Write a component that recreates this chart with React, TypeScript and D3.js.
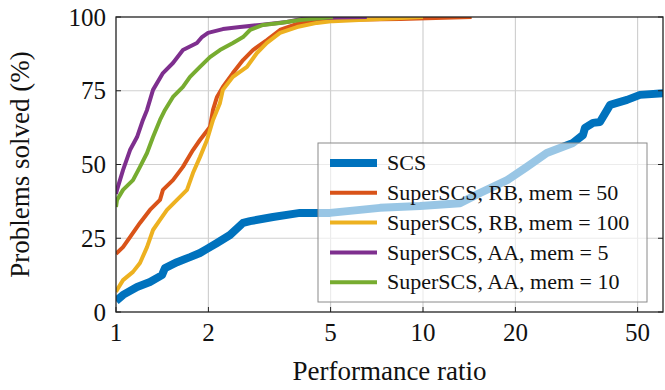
import React, { useEffect, useRef } from "react";
import * as d3 from "d3";

const W = 665, H = 390;
const M = { left: 116, right: 2, top: 17, bottom: 78 };

const xTicks = [1, 2, 5, 10, 20, 50];
const yTicks = [0, 25, 50, 75, 100];

const seriesNames = [
  "SCS",
  "SuperSCS, RB, mem = 50",
  "SuperSCS, RB, mem = 100",
  "SuperSCS, AA, mem = 5",
  "SuperSCS, AA, mem = 10",
];
const seriesColors = ["#0072BD", "#D95319", "#EDB120", "#7E2F8E", "#77AC30"];
const seriesWidths = [8, 4, 4, 4, 4];

// [performance ratio, problems solved %]
const scs: [number, number][] = [
  [1, 3.7], [1.054, 5.8], [1.171, 8.5], [1.29, 10.2], [1.412, 12.5], [1.444, 14.9],
  [1.58, 16.9], [1.742, 18.6], [1.877, 20.0], [1.979, 21.4], [2.133, 23.4], [2.351, 26.1],
  [2.593, 30.2], [2.733, 30.8], [3.246, 32.2], [3.975, 33.6], [4.98, 33.6], [7.24, 35.3],
  [9.78, 35.9], [13.2, 36.9], [15.3, 40.3], [18.8, 44.7], [21.8, 49.2], [25.3, 53.9],
  [30.8, 57.3], [33.2, 60.0], [33.7, 62.4], [35.8, 64.1], [37.7, 64.4], [40.7, 70.2],
  [46.2, 71.9], [50.9, 73.6], [61.4, 74.2],
];
const rb50: [number, number][] = [
  [1, 19.7], [1.054, 22.0], [1.111, 25.4], [1.197, 30.2], [1.29, 34.6], [1.391, 38.0],
  [1.422, 41.4], [1.533, 44.7], [1.652, 49.2], [1.781, 54.9], [1.877, 58.3], [2.023, 62.7],
  [2.07, 68.5], [2.133, 72.9], [2.229, 76.3], [2.403, 81.0], [2.593, 85.4], [2.792, 88.8],
  [3.101, 92.2], [3.42, 95.6], [3.975, 98.0], [4.87, 99.0], [8.42, 99.3], [14.4, 100],
];
const rb100: [number, number][] = [
  [1, 6.8], [1.0075, 7.5], [1.054, 10.8], [1.136, 13.6], [1.197, 16.6], [1.262, 22.0],
  [1.32, 27.8], [1.391, 31.2], [1.466, 34.6], [1.58, 38.0], [1.703, 41.4], [1.781, 47.1],
  [1.877, 52.5], [1.979, 58.3], [2.07, 65.1], [2.18, 70.8], [2.229, 75.3], [2.403, 79.7],
  [2.67, 83.1], [2.877, 87.8], [3.101, 91.2], [3.42, 94.6], [3.887, 96.6], [4.51, 98.0],
  [5.09, 98.6], [7.24, 99.3], [10.0, 100],
];
const aa5: [number, number][] = [
  [1, 40.0], [1.0075, 41.4], [1.054, 48.1], [1.111, 54.9], [1.171, 59.3], [1.224, 65.1],
  [1.262, 68.5], [1.32, 75.3], [1.422, 81.0], [1.533, 84.4], [1.652, 88.8], [1.835, 91.2],
  [1.906, 93.2], [1.994, 94.6], [2.229, 95.9], [2.533, 96.6], [2.943, 97.3], [3.603, 98.3],
  [4.185, 99.7], [6.56, 100],
];
const aa10: [number, number][] = [
  [1, 35.6], [1.0075, 38.0], [1.054, 41.4], [1.136, 44.7], [1.197, 49.2], [1.262, 53.9],
  [1.32, 59.3], [1.391, 65.1], [1.444, 68.5], [1.533, 72.9], [1.652, 76.3], [1.742, 79.7],
  [1.877, 83.1], [2.023, 86.4], [2.18, 88.8], [2.403, 91.2], [2.593, 93.2], [2.733, 95.6],
  [3.013, 97.3], [3.42, 98.0], [3.975, 99.0], [5.09, 100],
];
const seriesData = [scs, rb50, rb100, aa5, aa10];

const App = () => {
  const ref = useRef<SVGSVGElement>(null);

  useEffect(() => {
    const svg = d3.select(ref.current);
    svg.selectAll("*").remove();

    const x = d3.scaleLog().domain([1, 60.5]).range([M.left, W - M.right]);
    const y = d3.scaleLinear().domain([0, 100]).range([H - M.bottom, M.top]);
    const serif = "Liberation Serif, DejaVu Serif, serif";

    svg.append("defs").append("clipPath").attr("id", "plotclip")
      .append("rect")
      .attr("x", M.left).attr("y", M.top)
      .attr("width", W - M.left - M.right).attr("height", H - M.top - M.bottom);

    // grid
    const grid = svg.append("g").attr("stroke", "#d0d0d0").attr("stroke-width", 1.2);
    grid.selectAll("line.gx").data(xTicks.slice(1)).join("line")
      .attr("x1", d => x(d)).attr("x2", d => x(d))
      .attr("y1", M.top).attr("y2", H - M.bottom);
    grid.selectAll("line.gy").data(yTicks.slice(1, -1)).join("line")
      .attr("y1", d => y(d)).attr("y2", d => y(d))
      .attr("x1", M.left).attr("x2", W - M.right);

    const line = d3.line<[number, number]>()
      .x(d => x(d[0]))
      .y(d => y(d[1]));

    svg.append("g").attr("clip-path", "url(#plotclip)")
      .selectAll("path")
      .data(seriesData)
      .join("path")
      .attr("fill", "none")
      .attr("stroke", (_, i) => seriesColors[i])
      .attr("stroke-width", (_, i) => seriesWidths[i])
      .attr("stroke-linejoin", "round")
      .attr("d", d => line(d));

    // box
    svg.append("rect")
      .attr("x", M.left).attr("y", M.top)
      .attr("width", W - M.left - M.right).attr("height", H - M.top - M.bottom)
      .attr("fill", "none").attr("stroke", "#222").attr("stroke-width", 1.3);

    // ticks
    const tk = svg.append("g").attr("stroke", "#222").attr("stroke-width", 1);
    tk.selectAll("line.tx").data(xTicks).join("line")
      .attr("x1", d => x(d)).attr("x2", d => x(d))
      .attr("y1", H - M.bottom).attr("y2", H - M.bottom - 5);
    tk.selectAll("line.ty").data(yTicks).join("line")
      .attr("y1", d => y(d)).attr("y2", d => y(d))
      .attr("x1", M.left).attr("x2", M.left + 5);
    tk.selectAll("line.ty2").data(yTicks).join("line")
      .attr("y1", d => y(d)).attr("y2", d => y(d))
      .attr("x1", W - M.right).attr("x2", W - M.right - 5);

    const lbl = svg.append("g").style("font-family", serif).attr("fill", "#111");
    lbl.selectAll("text.xl").data(xTicks).join("text")
      .attr("x", d => x(d)).attr("y", H - M.bottom + 29)
      .attr("text-anchor", "middle").attr("font-size", 25)
      .text(d => d);
    lbl.selectAll("text.yl").data(yTicks).join("text")
      .attr("x", M.left - 10).attr("y", d => y(d)).attr("dy", "0.34em")
      .attr("text-anchor", "end").attr("font-size", 25)
      .text(d => d);
    lbl.append("text")
      .attr("x", (M.left + W - M.right) / 2 + 0).attr("y", 380)
      .attr("text-anchor", "middle").attr("font-size", 27)
      .text("Performance ratio");
    lbl.append("text")
      .attr("transform", `translate(29,${(M.top + H - M.bottom) / 2}) rotate(-90)`)
      .attr("text-anchor", "middle").attr("font-size", 27)
      .text("Problems solved (%)");

    // legend
    const lg = svg.append("g");
    lg.append("rect")
      .attr("x", 318).attr("y", 143).attr("width", 329).attr("height", 159)
      .attr("fill", "white").attr("fill-opacity", 0.6)
      .attr("stroke", "#8a8a8a").attr("stroke-width", 1);
    const rows = lg.selectAll("g.row").data(seriesNames).join("g")
      .attr("transform", (_, i) => `translate(330,${163 + i * 29.8})`);
    rows.append("line")
      .attr("x1", 0).attr("x2", 47)
      .attr("stroke", (_, i) => seriesColors[i])
      .attr("stroke-width", (_, i) => seriesWidths[i]);
    rows.append("text")
      .attr("x", 57).attr("dy", "0.33em")
      .style("font-family", serif).attr("font-size", 22).attr("fill", "#111")
      .text(d => d);
  }, []);

  return (
    <svg ref={ref} width={W} height={H}
      style={{ position: "absolute", left: 0, top: 0, background: "white" }} />
  );
};

export default App;
